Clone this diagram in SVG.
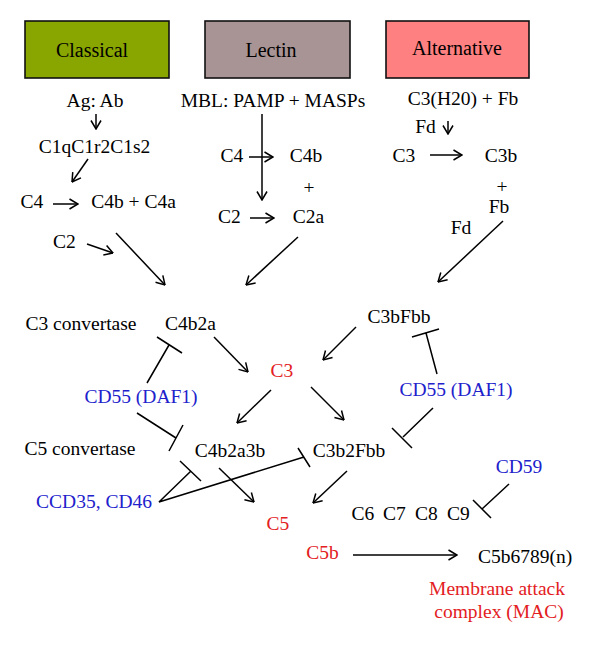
<svg xmlns="http://www.w3.org/2000/svg" width="600" height="647" viewBox="0 0 600 647" font-family="'Liberation Serif', 'DejaVu Serif', 'Noto Serif', serif">
<style>
text{font-family:'Liberation Serif','DejaVu Serif','Noto Serif',serif;font-size:19.5px;text-anchor:middle;fill:#000}
.r{fill:#E3201E}
.b{fill:#2121CC}
.hd{font-size:20px}
.box{stroke:#111;stroke-width:1.6}
.ln{stroke:#000;stroke-width:1.5;fill:none}
.ar{stroke:#000;stroke-width:1.5;fill:none;marker-end:url(#ah)}
</style>
<defs>
<marker id="ah" viewBox="0 0 10 12" refX="9.5" refY="6" markerWidth="10" markerHeight="12" markerUnits="userSpaceOnUse" orient="auto">
<path d="M1,1 L9.5,6 L1,11" fill="none" stroke="#000" stroke-width="1.5"/>
</marker>
</defs>
<rect width="600" height="647" fill="#fff"/>
<g id="classical"><rect class="box" x="25" y="21" width="144" height="57" fill="#89A600"/><text class="hd" x="92" y="57">Classical</text></g>
<g id="lectin"><rect class="box" x="205" y="21" width="145" height="57" fill="#A89494"/><text class="hd" x="271" y="57">Lectin</text></g>
<g id="alternative"><rect class="box" x="386" y="21" width="143" height="57" fill="#FF8080"/><text class="hd" x="457" y="55">Alternative</text></g>
<g id="agab"><text x="95" y="107">Ag: Ab</text></g>
<g id="mbl"><text x="273" y="107">MBL: PAMP + MASPs</text></g>
<g id="c3h2o"><text x="463" y="105">C3(H20) + Fb</text></g>
<g id="c1q"><text x="94.5" y="153">C1qC1r2C1s2</text></g>
<g id="cl-c4"><text x="32" y="208">C4</text></g>
<g id="cl-c4b"><text x="133.5" y="208">C4b + C4a</text></g>
<g id="le-c4"><text x="232" y="162">C4</text></g>
<g id="le-c4b"><text x="306" y="162">C4b</text></g>
<g id="le-plus"><text x="309" y="194">+</text></g>
<g id="le-c2"><text x="229.5" y="223">C2</text></g>
<g id="le-c2a"><text x="308.5" y="223">C2a</text></g>
<g id="al-fd1"><text x="425.5" y="133">Fd</text></g>
<g id="al-c3"><text x="404" y="162">C3</text></g>
<g id="al-c3b"><text x="501" y="162">C3b</text></g>
<g id="al-plus"><text x="502" y="193">+</text></g>
<g id="al-fb"><text x="499" y="213">Fb</text></g>
<g id="cl-c2"><text x="64.5" y="248">C2</text></g>
<g id="al-fd2"><text x="461" y="234">Fd</text></g>
<g id="c3conv"><text x="81" y="330">C3 convertase</text></g>
<g id="c4b2a"><text x="190.5" y="330">C4b2a</text></g>
<g id="c3bfbb"><text x="399" y="323">C3bFbb</text></g>
<g id="c3"><text class="r" x="282" y="377">C3</text></g>
<g id="cd55l"><text class="b" x="141" y="403">CD55 (DAF1)</text></g>
<g id="cd55r"><text class="b" x="456" y="396">CD55 (DAF1)</text></g>
<g id="c5conv"><text x="80" y="455">C5 convertase</text></g>
<g id="c4b2a3b"><text x="230" y="457">C4b2a3b</text></g>
<g id="c3b2fbb"><text x="349" y="457">C3b2Fbb</text></g>
<g id="ccd35"><text class="b" x="94" y="508">CCD35, CD46</text></g>
<g id="c5"><text class="r" x="278" y="530">C5</text></g>
<g id="c6789"><text x="363" y="520">C6</text><text x="394.5" y="520">C7</text><text x="426.5" y="520">C8</text><text x="458.5" y="520">C9</text></g>
<g id="cd59"><text class="b" x="519" y="473">CD59</text></g>
<g id="c5b"><text class="r" x="322.5" y="559">C5b</text></g>
<g id="mac"><text x="525" y="563">C5b6789(n)</text></g>
<g id="maclabel"><text class="r" x="497" y="595">Membrane attack</text><text class="r" x="499" y="618">complex (MAC)</text></g>
<g id="connectors">
<line class="ar" x1="96" y1="114" x2="96" y2="129"/>
<line class="ar" x1="88" y1="159" x2="72" y2="182"/>
<line class="ar" x1="53" y1="204" x2="78" y2="204"/>
<line class="ar" x1="262" y1="114" x2="262" y2="200"/>
<line class="ar" x1="249" y1="157" x2="273" y2="157"/>
<line class="ar" x1="250" y1="218" x2="274" y2="218"/>
<line class="ar" x1="448" y1="121" x2="448" y2="134"/>
<line class="ar" x1="430" y1="155" x2="462" y2="155"/>
<line class="ar" x1="87" y1="244" x2="113" y2="253"/>
<line class="ar" x1="116" y1="233" x2="165" y2="285"/>
<line class="ar" x1="298" y1="237" x2="246" y2="285"/>
<line class="ar" x1="503" y1="221" x2="438" y2="282"/>
<line class="ar" x1="214" y1="337" x2="248" y2="372"/>
<line class="ar" x1="356" y1="327" x2="323" y2="360"/>
<line class="ar" x1="271" y1="390" x2="237" y2="423"/>
<line class="ar" x1="311" y1="387" x2="344" y2="420"/>
<line class="ar" x1="219" y1="468" x2="254" y2="502"/>
<line class="ar" x1="347" y1="471" x2="313" y2="503"/>
<line class="ar" x1="353" y1="555" x2="457" y2="555"/>
<path class="ln" d="M147,383 L169,345 M157,337 L182,353"/>
<path class="ln" d="M137,413 L176,438 M183,425 L169,451"/>
<path class="ln" d="M437,374 L426,333 M412,337 L439,329"/>
<path class="ln" d="M433,408 L403,437 M392,428 L412,448"/>
<path class="ln" d="M191,471 L159,502 L304,457 M180,461 L201,481 M298,448 L310,467"/>
<path class="ln" d="M509,484 L482,509 M473,500 L491,518"/>
</g>
</svg>
